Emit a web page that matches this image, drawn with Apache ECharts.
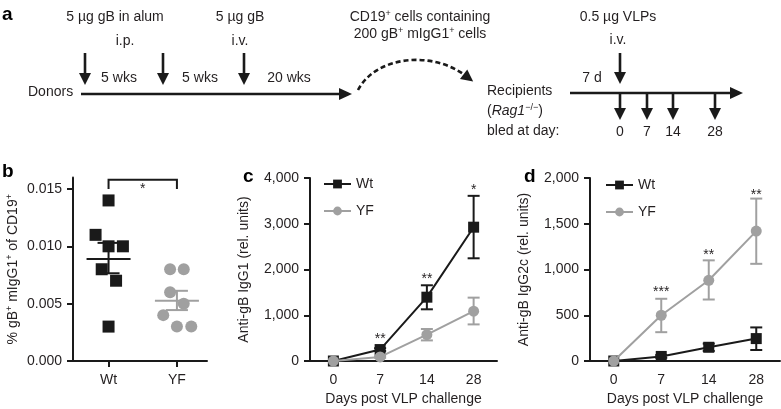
<!DOCTYPE html>
<html><head><meta charset="utf-8">
<script src="https://cdn.jsdelivr.net/npm/echarts@6/dist/echarts.min.js"></script>
<style>html,body{margin:0;padding:0;background:#fff}#c{width:781px;height:409px}</style>
</head><body><div id="c"></div>
<script>
// ---------- Panel b data ----------
const bGroups = ['Wt', 'YF'];
const bWtValues = [0.014, 0.011, 0.010, 0.010, 0.008, 0.007, 0.003];
const bWtJitter = [0, -0.19, 0, 0.21, -0.1, 0.11, 0];
const bYfValues = [0.008, 0.008, 0.006, 0.005, 0.004, 0.003, 0.003];
const bYfJitter = [-0.1, 0.1, -0.1, 0.1, -0.2, 0, 0.21];
const bMeans = [0.0089, 0.00525];
const bSemLow = [0.00765, 0.00444];
const bSemHigh = [0.0103, 0.00612];
const bTicks = [0, 0.005, 0.010, 0.015];
const bBracket = [0.0158, 0.0150];
const bSig = '*';
// ---------- Panels c and d data ----------
const days = ['0', '7', '14', '28'];
const cWt = [0, 250, 1395, 2925];
const cWtLow = [0, 220, 1130, 2245];
const cWtHigh = [0, 280, 1655, 3610];
const cYf = [0, 90, 575, 1090];
const cYfLow = [0, 70, 450, 800];
const cYfHigh = [0, 110, 700, 1385];
const cSig = ['', '**', '**', '*'];
const cSigAt = [0, 560, 1870, 3830];
const cTicks = [0, 1000, 2000, 3000, 4000];
const dWt = [0, 50, 150, 245];
const dWtLow = [0, 35, 110, 120];
const dWtHigh = [0, 65, 190, 367];
const dYf = [0, 500, 882, 1420];
const dYfLow = [0, 315, 672, 1062];
const dYfHigh = [0, 680, 1100, 1775];
const dSig = ['', '***', '**', '**'];
const dSigAt = [0, 800, 1200, 1855];
const dTicks = [0, 500, 1000, 1500, 2000];

const FONT = '"Liberation Sans", Arial, sans-serif';
const TXT = '#231f20';
const BLACK = '#1a1a1a';
const GRAY = '#a0a0a0';

const chart = echarts.init(document.getElementById('c'));

function fmtThousands(v) { return v.toLocaleString('en-US'); }

function yAxisCfg(gridIndex, max, interval, ticks, name, nameGap, fmt) {
  return {
    type: 'value', gridIndex, min: 0, max, interval,
    name, nameLocation: 'middle', nameGap,
    nameTextStyle: { color: TXT, fontSize: 14, fontFamily: FONT, lineHeight: 16,
      rich: { sup: { fontSize: 9, verticalAlign: 'top', lineHeight: 16, fontFamily: FONT, color: TXT } } },
    axisLine: { show: true, lineStyle: { color: BLACK, width: 2 } },
    axisTick: { show: true, inside: false, length: 6, lineStyle: { color: BLACK, width: 2 }, customValues: ticks },
    axisLabel: { color: TXT, fontSize: 14, fontFamily: FONT, margin: 11, customValues: ticks, formatter: fmt },
    splitLine: { show: false }
  };
}
function xCatCfg(gridIndex) {
  return {
    type: 'category', gridIndex, data: days, boundaryGap: true,
    name: 'Days post VLP challenge', nameLocation: 'middle', nameGap: 31,
    nameTextStyle: { color: TXT, fontSize: 14, fontFamily: FONT },
    axisLine: { lineStyle: { color: BLACK, width: 2 } },
    axisTick: { alignWithLabel: true, length: 6, lineStyle: { color: BLACK, width: 2 } },
    axisLabel: { color: TXT, fontSize: 14, fontFamily: FONT, margin: 12 },
    splitLine: { show: false }
  };
}
function lineSeries(name, xi, yi, data, color, symbol) {
  return {
    type: 'line', name, xAxisIndex: xi, yAxisIndex: yi, data,
    symbol, symbolSize: 11, showSymbol: true,
    lineStyle: { color, width: 2 }, itemStyle: { color, borderWidth: 0, opacity: 1 },
    z: symbol === 'rect' ? 3 : 4, silent: true, animation: false
  };
}
function errorBars(xi, yi, low, high, color, z) {
  return {
    type: 'custom', xAxisIndex: xi, yAxisIndex: yi, z, silent: true, animation: false,
    data: low.map((l, i) => [i, l, high[i]]),
    encode: { x: 0, y: [1, 2] },
    renderItem(params, api) {
      const i = api.value(0);
      if (api.value(2) - api.value(1) <= 0) return null;
      const lo = api.coord([i, api.value(1)]);
      const hi = api.coord([i, api.value(2)]);
      const w = 6;
      const st = { stroke: color, lineWidth: 2 };
      return { type: 'group', children: [
        { type: 'line', shape: { x1: lo[0], y1: lo[1], x2: hi[0], y2: hi[1] }, style: st },
        { type: 'line', shape: { x1: lo[0] - w, y1: lo[1], x2: lo[0] + w, y2: lo[1] }, style: st },
        { type: 'line', shape: { x1: hi[0] - w, y1: hi[1], x2: hi[0] + w, y2: hi[1] }, style: st }
      ] };
    }
  };
}
function sigSeries(xi, yi, labels, at) {
  return {
    type: 'custom', xAxisIndex: xi, yAxisIndex: yi, z: 6, silent: true, animation: false,
    data: labels.map((s, i) => [i, at[i], s]),
    renderItem(params, api) {
      const idx = params.dataIndex;
      const s = labels[idx];
      if (!s) return null;
      const p = api.coord([api.value(0), api.value(1)]);
      return { type: 'text', x: p[0], y: p[1] + 4,
        style: { text: s, fill: TXT, fontSize: 14, fontFamily: FONT, align: 'center', verticalAlign: 'middle' } };
    }
  };
}

// ---------- Panel a schematic ----------
const G = [];
function txt(x, y, text, opts) {
  G.push(Object.assign({ type: 'text', x, y, silent: true,
    style: Object.assign({ text, fill: TXT, fontSize: 14, fontFamily: FONT, align: 'center', verticalAlign: 'middle', lineHeight: 16,
      rich: { sup: { fontSize: 9, verticalAlign: 'top', lineHeight: 16, fill: TXT, fontFamily: FONT },
              it: { fontStyle: 'italic', fontSize: 14, lineHeight: 16, fill: TXT, fontFamily: FONT } } }, opts || {}) }));
}
function downArrow(x, y1, y2) {
  G.push({ type: 'line', silent: true, shape: { x1: x, y1, x2: x, y2: y2 - 8 }, style: { stroke: BLACK, lineWidth: 2.6 } });
  G.push({ type: 'polygon', silent: true, shape: { points: [[x - 6, y2 - 12], [x + 6, y2 - 12], [x, y2]] }, style: { fill: BLACK } });
}
function rightArrow(x1, x2, y) {
  G.push({ type: 'line', silent: true, shape: { x1, y1: y, x2: x2 - 8, y2: y }, style: { stroke: BLACK, lineWidth: 2.6 } });
  G.push({ type: 'polygon', silent: true, shape: { points: [[x2 - 13, y - 6], [x2 - 13, y + 6], [x2, y]] }, style: { fill: BLACK } });
}
// panel letters
G.push({ type: 'text', x: 2, y: 15, silent: true, style: { text: 'a', fill: '#000', fontSize: 19, fontWeight: 'bold', fontFamily: FONT, verticalAlign: 'middle' } });
G.push({ type: 'text', x: 2, y: 172, silent: true, style: { text: 'b', fill: '#000', fontSize: 19, fontWeight: 'bold', fontFamily: FONT, verticalAlign: 'middle' } });
G.push({ type: 'text', x: 243, y: 177, silent: true, style: { text: 'c', fill: '#000', fontSize: 19, fontWeight: 'bold', fontFamily: FONT, verticalAlign: 'middle' } });
G.push({ type: 'text', x: 524, y: 177, silent: true, style: { text: 'd', fill: '#000', fontSize: 19, fontWeight: 'bold', fontFamily: FONT, verticalAlign: 'middle' } });

txt(115, 17, '5 µg gB in alum');
txt(125, 41, 'i.p.');
txt(240, 17, '5 µg gB');
txt(240, 41, 'i.v.');
downArrow(85, 53, 85); downArrow(163, 53, 85); downArrow(244, 53, 85);
txt(119, 78, '5 wks'); txt(200, 78, '5 wks'); txt(289, 78, '20 wks');
txt(28, 92, 'Donors', { align: 'left' });
rightArrow(81, 352, 94);
txt(420, 17, 'CD19{sup|+} cells containing');
txt(420, 34, '200 gB{sup|+} mIgG1{sup|+} cells');
// dashed curved arrow
(function () {
  const s = [358, 90], c1 = [376, 56], c2 = [432, 50], e = [466, 76];
  G.push({ type: 'bezierCurve', silent: true, shape: { x1: s[0], y1: s[1], x2: e[0], y2: e[1], cpx1: c1[0], cpy1: c1[1], cpx2: c2[0], cpy2: c2[1] },
    style: { stroke: BLACK, lineWidth: 2.6, lineDash: [5, 3], fill: null } });
  const dx = e[0] - c2[0], dy = e[1] - c2[1], L = Math.hypot(dx, dy);
  const ux = dx / L, uy = dy / L, px = -uy, py = ux;
  const tip = [e[0] + ux * 9, e[1] + uy * 9];
  const base = [e[0] - ux * 3, e[1] - uy * 3];
  G.push({ type: 'polygon', silent: true, shape: { points: [tip, [base[0] + px * 6, base[1] + py * 6], [base[0] - px * 6, base[1] - py * 6]] }, style: { fill: BLACK } });
})();
txt(618, 17, '0.5 µg VLPs');
txt(618, 40, 'i.v.');
txt(592, 78, '7 d');
downArrow(620, 53, 84);
txt(487, 91, 'Recipients', { align: 'left' });
txt(487, 111, '({it|Rag1}{sup|−/−})', { align: 'left' });
txt(487, 131, 'bled at day:', { align: 'left' });
rightArrow(570, 743, 93);
const bledDays = ['0', '7', '14', '28'];
const bledX = [620, 647, 673, 715];
bledX.forEach((x, i) => { downArrow(x, 93, 120); txt(x, 132, bledDays[i]); });

// ---------- Panel b series ----------
const bWtData = bWtValues.map((v, i) => [1 + bWtJitter[i], v]);
const bYfData = bYfValues.map((v, i) => [2 + bYfJitter[i], v]);

const option = {
  animation: false,
  backgroundColor: '#fff',
  textStyle: { fontFamily: FONT },
  grid: [
    { left: 73, top: 177.5, width: 134, height: 183.5 },
    { left: 310, top: 178, width: 187, height: 183 },
    { left: 590, top: 178, width: 190, height: 183 }
  ],
  xAxis: [
    { type: 'value', gridIndex: 0, min: 0.48, max: 2.44,
      axisLine: { lineStyle: { color: BLACK, width: 2 } },
      axisTick: { show: true, length: 6, lineStyle: { color: BLACK, width: 2 }, customValues: [1, 2] },
      axisLabel: { color: TXT, fontSize: 14, fontFamily: FONT, margin: 12, customValues: [1, 2], formatter: v => bGroups[Math.round(v) - 1] },
      splitLine: { show: false } },
    xCatCfg(1),
    xCatCfg(2)
  ],
  yAxis: [
    yAxisCfg(0, 0.016, 0.005, bTicks, '% gB{sup|+} mIgG1{sup|+} of CD19{sup|+}', 52, v => v.toFixed(3)),
    yAxisCfg(1, 4000, 1000, cTicks, 'Anti-gB IgG1 (rel. units)', 58, fmtThousands),
    yAxisCfg(2, 2000, 500, dTicks, 'Anti-gB IgG2c (rel. units)', 58, fmtThousands)
  ],
  legend: [
    { data: ['Wt', 'YF'], orient: 'vertical', left: 318, top: 172, itemWidth: 27, itemHeight: 11, itemGap: 13,
      textStyle: { color: TXT, fontSize: 14, fontFamily: FONT }, selectedMode: false },
    { data: ['Wt', 'YF'], orient: 'vertical', left: 600, top: 173, itemWidth: 27, itemHeight: 11, itemGap: 13,
      textStyle: { color: TXT, fontSize: 14, fontFamily: FONT }, selectedMode: false }
  ],
  series: [
    { type: 'scatter', name: 'bWt', xAxisIndex: 0, yAxisIndex: 0, data: bWtData, symbol: 'rect', symbolSize: 12, itemStyle: { color: BLACK, opacity: 1 }, silent: true, z: 3 },
    { type: 'scatter', name: 'bYF', xAxisIndex: 0, yAxisIndex: 0, data: bYfData, symbol: 'circle', symbolSize: 12, itemStyle: { color: GRAY, opacity: 1 }, silent: true, z: 3 },
    { type: 'custom', name: 'bMean', xAxisIndex: 0, yAxisIndex: 0, z: 5, silent: true,
      data: bMeans.map((m, i) => [i + 1, m, bSemLow[i], bSemHigh[i]]),
      encode: { x: 0, y: [1, 2, 3] },
      renderItem(params, api) {
        const x = api.value(0);
        const color = params.dataIndex === 0 ? BLACK : GRAY;
        const m = api.coord([x, api.value(1)]);
        const lo = api.coord([x, api.value(2)]);
        const hi = api.coord([x, api.value(3)]);
        const st = { stroke: color, lineWidth: 2 };
        return { type: 'group', children: [
          { type: 'line', shape: { x1: m[0] - 22, y1: m[1], x2: m[0] + 22, y2: m[1] }, style: st },
          { type: 'line', shape: { x1: lo[0], y1: lo[1], x2: hi[0], y2: hi[1] }, style: st },
          { type: 'line', shape: { x1: lo[0] - 11, y1: lo[1], x2: lo[0] + 11, y2: lo[1] }, style: st },
          { type: 'line', shape: { x1: hi[0] - 11, y1: hi[1], x2: hi[0] + 11, y2: hi[1] }, style: st }
        ] };
      } },
    { type: 'custom', name: 'bBracket', xAxisIndex: 0, yAxisIndex: 0, z: 5, silent: true,
      data: [[1, 2, bBracket[0], bBracket[1]]],
      encode: { x: [0, 1], y: [2, 3] },
      renderItem(params, api) {
        const a = api.coord([api.value(0), api.value(3)]);
        const b = api.coord([api.value(0), api.value(2)]);
        const c = api.coord([api.value(1), api.value(2)]);
        const d = api.coord([api.value(1), api.value(3)]);
        return { type: 'group', children: [
          { type: 'polyline', shape: { points: [a, b, c, d] }, style: { stroke: BLACK, lineWidth: 2, fill: null } },
          { type: 'text', x: (b[0] + c[0]) / 2, y: b[1] + 9, style: { text: bSig, fill: TXT, fontSize: 14, fontFamily: FONT, align: 'center', verticalAlign: 'middle' } }
        ] };
      } },
    // panel c
    errorBars(1, 1, cWtLow, cWtHigh, BLACK, 2),
    errorBars(1, 1, cYfLow, cYfHigh, GRAY, 2),
    lineSeries('Wt', 1, 1, cWt, BLACK, 'rect'),
    lineSeries('YF', 1, 1, cYf, GRAY, 'circle'),
    sigSeries(1, 1, cSig, cSigAt),
    // panel d
    errorBars(2, 2, dWtLow, dWtHigh, BLACK, 2),
    errorBars(2, 2, dYfLow, dYfHigh, GRAY, 2),
    lineSeries('Wt', 2, 2, dWt, BLACK, 'rect'),
    lineSeries('YF', 2, 2, dYf, GRAY, 'circle'),
    sigSeries(2, 2, dSig, dSigAt)
  ],
  graphic: G
};
chart.setOption(option);
</script>
</body></html>
